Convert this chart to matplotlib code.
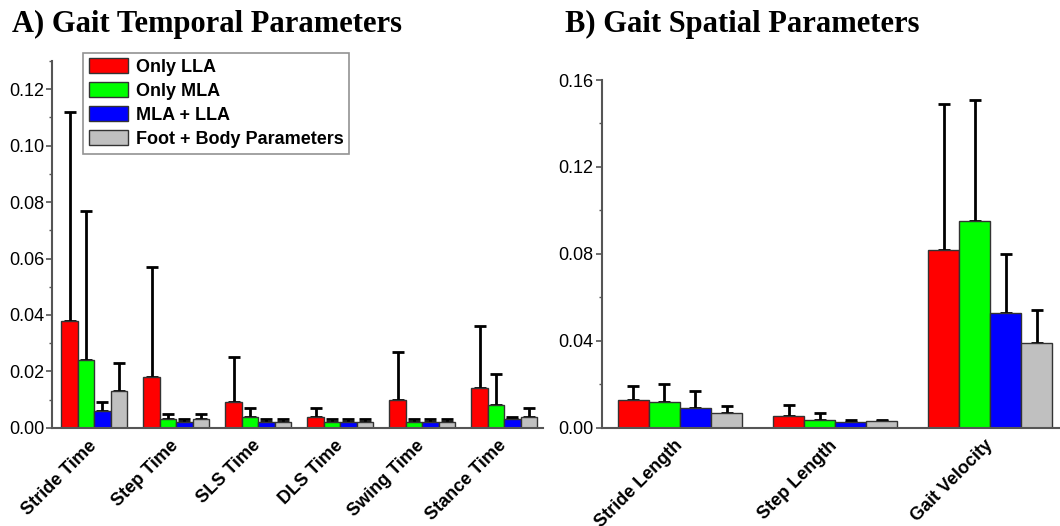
import numpy as np
import matplotlib
matplotlib.use("Agg")
import matplotlib.pyplot as plt
from matplotlib.ticker import MultipleLocator

plt.rcParams['font.family'] = ['Liberation Sans', 'DejaVu Sans']

# --- data ---
series = ["Only LLA", "Only MLA", "MLA + LLA", "Foot + Body Parameters"]
colors = ["#ff0000", "#00ff00", "#0000ff", "#c0c0c0"]

temporal_labels = ["Stride Time", "Step Time", "SLS Time", "DLS Time", "Swing Time", "Stance Time"]
temporal_mean = [
    [0.038, 0.018, 0.009, 0.004, 0.010, 0.014],
    [0.024, 0.003, 0.004, 0.002, 0.002, 0.008],
    [0.006, 0.002, 0.002, 0.002, 0.002, 0.003],
    [0.013, 0.003, 0.002, 0.002, 0.002, 0.004],
]
temporal_sd = [
    [0.074, 0.039, 0.016, 0.003, 0.017, 0.022],
    [0.053, 0.002, 0.003, 0.001, 0.001, 0.011],
    [0.003, 0.001, 0.001, 0.001, 0.001, 0.001],
    [0.010, 0.002, 0.001, 0.001, 0.001, 0.003],
]

spatial_labels = ["Stride Length", "Step Length", "Gait Velocity"]
spatial_mean = [
    [0.013, 0.0055, 0.082],
    [0.012, 0.0036, 0.095],
    [0.009, 0.0026, 0.053],
    [0.007, 0.0030, 0.039],
]
spatial_sd = [
    [0.006, 0.0050, 0.067],
    [0.008, 0.0031, 0.056],
    [0.008, 0.0011, 0.027],
    [0.003, 0.0007, 0.015],
]

fig = plt.figure(figsize=(10.6, 5.26), dpi=100)
ax1 = fig.add_axes([0.0494, 0.1867, 0.4633, 0.6973])
ax2 = fig.add_axes([0.5676, 0.1867, 0.4324, 0.6612])

width = 0.2
axis_col = "#555555"


def draw(ax, labels, means, sds):
    x = np.arange(len(labels))
    handles = []
    for i in range(len(series)):
        pos = x + (i - 1.5) * width
        m = np.array(means[i])
        s = np.array(sds[i])
        b = ax.bar(pos, m, width, color=colors[i], edgecolor="#333333",
                   linewidth=1.0, label=series[i], zorder=2)
        ax.errorbar(pos, m, yerr=[np.zeros_like(s), s], fmt="none",
                    ecolor="black", elinewidth=2, capsize=4, capthick=2, zorder=1)
        handles.append(b)
    ax.set_xticks(x)
    ax.set_xticklabels(labels, rotation=45, ha="right", va="center",
                       rotation_mode="anchor", fontsize=13, fontweight="bold")
    ax.tick_params(axis="x", length=0, pad=11)
    ax.tick_params(axis="y", which="major", length=4, width=1.2, color=axis_col,
                   labelsize=13, pad=2)
    ax.tick_params(axis="y", which="minor", length=2.5, width=1.0, color=axis_col)
    for sp in ["top", "right"]:
        ax.spines[sp].set_visible(False)
    for sp in ["left", "bottom"]:
        ax.spines[sp].set_color(axis_col)
        ax.spines[sp].set_linewidth(1.5)
    return handles


h = draw(ax1, temporal_labels, temporal_mean, temporal_sd)
ax1.set_xlim(-0.51, 5.48)
ax1.set_ylim(0, 0.13)
ax1.yaxis.set_major_locator(MultipleLocator(0.02))
ax1.yaxis.set_minor_locator(MultipleLocator(0.01))
ax1.yaxis.set_major_formatter(matplotlib.ticker.FormatStrFormatter("%.2f"))

draw(ax2, spatial_labels, spatial_mean, spatial_sd)
ax2.set_xlim(-0.505, 2.45)
ax2.set_ylim(0, 0.16)
ax2.yaxis.set_major_locator(MultipleLocator(0.04))
ax2.yaxis.set_minor_locator(MultipleLocator(0.02))
ax2.yaxis.set_major_formatter(matplotlib.ticker.FormatStrFormatter("%.2f"))

leg = ax1.legend(handles=h, loc="upper left", bbox_to_anchor=(0.063, 1.022),
                 prop={"size": 13, "weight": "bold"}, frameon=True, fancybox=False,
                 handlelength=2.2, handleheight=0.9, handletextpad=0.4,
                 labelspacing=0.35, borderpad=0.3, borderaxespad=0)
leg.get_frame().set_edgecolor("#777777")
leg.get_frame().set_linewidth(1.2)

fig.text(0.011, 0.94, "A) Gait Temporal Parameters", fontsize=22, fontweight="bold",
         family=["Liberation Serif"], ha="left", va="baseline")
fig.text(0.533, 0.94, "B) Gait Spatial Parameters", fontsize=22, fontweight="bold",
         family=["Liberation Serif"], ha="left", va="baseline")

fig.savefig("out.png", dpi=100)
